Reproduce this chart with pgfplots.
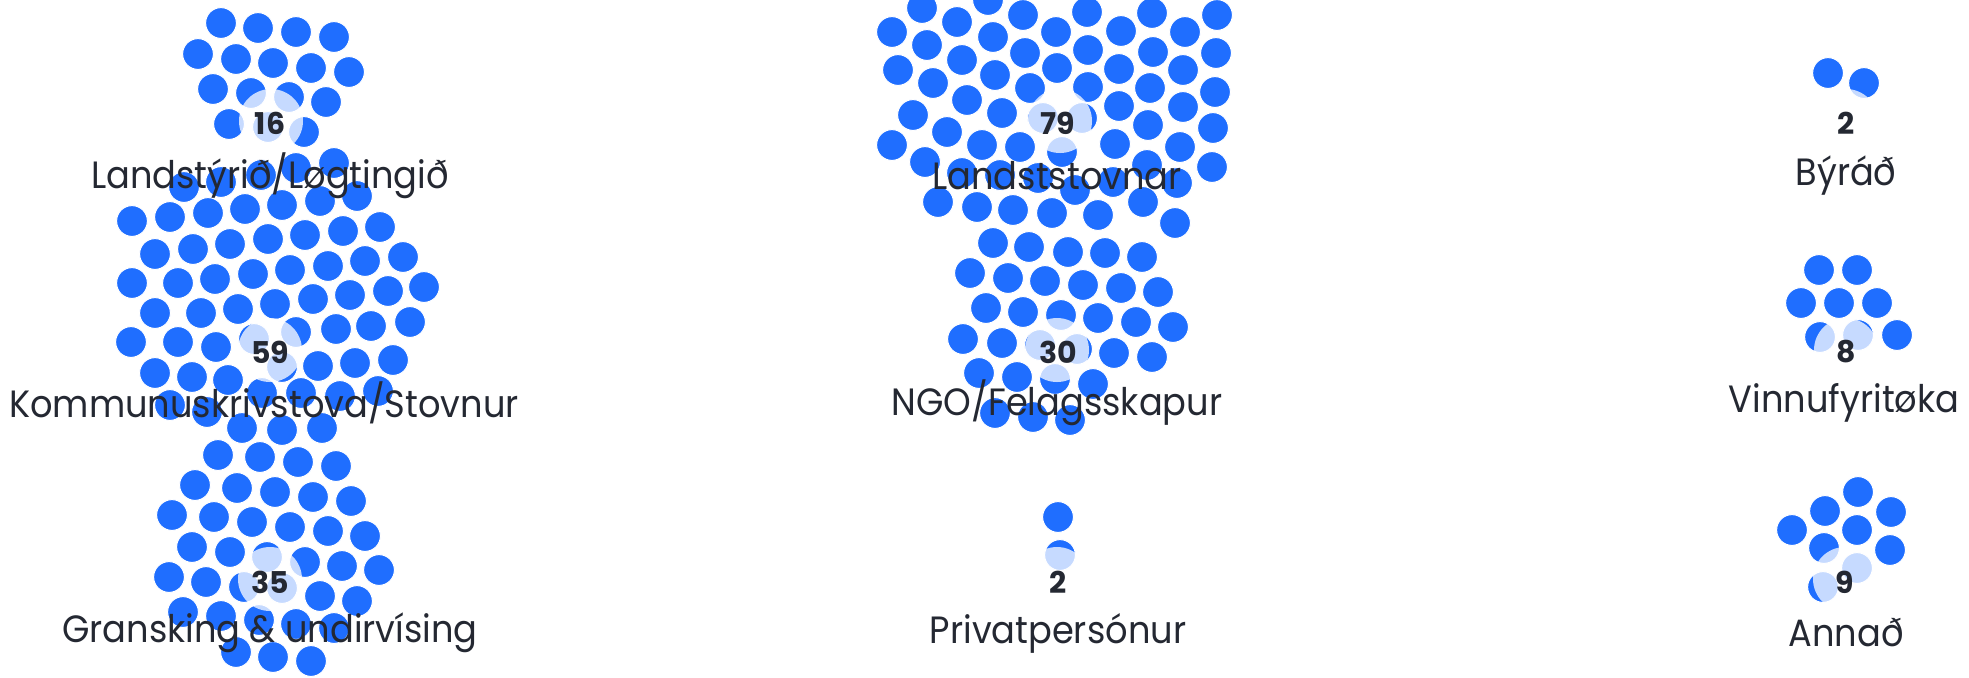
\documentclass[border=0pt]{standalone}
\usepackage{fontspec}
\setmainfont{Poppins}
\usepackage{pgfplots}
\pgfplotsset{compat=1.18}
\definecolor{dot}{RGB}{31,110,255}
\definecolor{txt}{RGB}{36,40,50}
\begin{document}
\begin{tikzpicture}
\begin{axis}[scale only axis, width=984.5pt, height=338.5pt,
  xmin=0, xmax=1969, ymin=0, ymax=677, y dir=reverse, hide axis,
  clip marker paths=true, clip bounding box=upper bound,
  dots/.style={only marks, mark=*, mark size=7.7pt, mark options={fill=dot, draw=white, line width=0.5pt}}]
% Landstyrid/Logtingid (16)
\addplot[dots] coordinates {(221,23)(258,28)(296,32)(334,37)
(198,54)(236,59)(273,63)(311,68)(349,72)
(213,89)(251,93)(289,97)(326,102)
(229,124)(268,127)(304,132)};
% Kommunuskrivstova/Stovnur (59)
\addplot[dots] coordinates {(184,187)(221,182)(261,175)(296,168)(334,163)
(132,221)(170,217)(208,213)(245,209)(282,205)(320,201)(357,196)
(155,254)(193,249)(230,244)(268,239)(305,235)(343,231)(380,227)
(132,283)(178,283)(215,279)(253,274)(290,270)(328,266)(365,261)(403,257)
(155,313)(201,313)(238,309)(275,304)(313,299)(350,295)(388,291)(424,287)
(131,342)(178,342)(216,347)(254,339)(296,332)(336,329)(371,326)(410,322)
(155,373)(192,377)(228,380)(282,367)(318,366)(355,363)(393,360)
(170,405)(207,412)(262,393)(301,393)(340,396)(378,391)
(242,428)(282,430)(322,428)};
% Gransking & undirvising (35)
\addplot[dots] coordinates {(218,455)(260,457)(298,462)(336,466)
(195,485)(237,488)(275,492)(313,497)(351,501)
(172,515)(214,517)(252,522)(290,527)(328,531)(365,536)
(192,547)(230,552)(267,557)(305,562)(342,566)(379,570)
(169,577)(206,582)(244,587)(282,588)(320,596)(357,601)
(183,612)(221,616)(259,620)(296,624)(334,628)
(236,652)(273,657)(311,661)};
% Landststovnar (79)
\addplot[dots] coordinates {(892,32)(922,8)(957,22)(988,0)(1023,15)(1053,-6)(1056,32)(1087,12)(1119,-6)(1121,31)(1152,13)(1185,-6)(1185,32)(1217,15)
(927,45)(993,37)(1025,53)(1088,50)(1153,52)(1216,53)
(898,70)(962,60)(1057,68)(1119,69)(1183,70)
(933,83)(995,75)(1030,88)(1088,87)(1150,88)(1215,92)
(913,115)(967,100)(1119,106)(1183,107)(1043,118)(1082,118)
(947,132)(1002,113)(892,145)(982,145)(1020,147)(1062,152)(1115,144)(1148,125)(1213,128)(1180,147)
(925,162)(1147,165)(1212,167)
(962,173)(1000,175)(1038,178)(1075,190)(1113,182)(1177,183)
(938,202)(977,207)(1013,210)(1052,213)(1098,215)(1143,202)(1175,223)};
% NGO/Felagsskapur (30)
\addplot[dots] coordinates {(993,243)(1029,247)(1068,252)(1105,253)(1142,257)
(970,273)(1008,278)(1045,281)(1083,285)(1121,288)(1158,292)
(986,308)(1023,312)(1061,315)(1098,318)(1136,322)(1173,327)
(963,339)(1002,343)(1040,345)(1077,349)(1114,353)(1152,357)
(979,373)(1017,377)(1055,379)(1093,384)
(995,413)(1033,417)(1070,420)};
% Privatpersonur (2)
\addplot[dots] coordinates {(1058,517)(1060,555)};
% Byrad (2)
\addplot[dots] coordinates {(1828,73)(1864,83)};
% Vinnufyritoka (8)
\addplot[dots] coordinates {(1819,270)(1857,270)(1801,303)(1839,303)(1877,303)(1820,337)(1858,335)(1897,335)};
% Annad (9)
\addplot[dots] coordinates {(1858,492)(1825,511)(1891,512)(1792,530)(1857,530)(1824,548)(1890,550)(1857,568)(1823,587)};
% label halos
\addplot[white, only marks, mark=*, mark size=16pt, mark options={fill=white, draw=white, fill opacity=0.75, draw opacity=0, line width=0pt}] coordinates {
(271,121)(270,350)(270,579)(1060,121)(1057,350)(1057,579)(1846,121)(1846,350)(1845,579)};
% numbers
\begin{scope}[every node/.style={text=txt, font=\fontsize{15}{17}\selectfont\bfseries}]
\node at (axis cs:270,123) {16};
\node at (axis cs:270,352) {59};
\node at (axis cs:270,582) {35};
\node at (axis cs:1058,123) {79};
\node at (axis cs:1058,352) {30};
\node at (axis cs:1058,582) {2};
\node at (axis cs:1846,123) {2};
\node at (axis cs:1846,352) {8};
\node at (axis cs:1845,582) {9};
\end{scope}
\begin{scope}[every node/.style={text=txt, font=\fontsize{17.6}{20}\selectfont, yscale=1.08}]
\node at (axis cs:270,176) {Landstýrið/Løgtingið};
\node at (axis cs:264,403) {Kommunuskrivstova/Stovnur};
\node at (axis cs:270,633) {Gransking \& undirvísing};
\node at (axis cs:1057,176) {Landststovnar};
\node at (axis cs:1057,403) {NGO/Felagsskapur};
\node at (axis cs:1058,633) {Privatpersónur};
\node at (axis cs:1846,176) {Býráð};
\node at (axis cs:1844,403) {Vinnufyritøka};
\node at (axis cs:1846,633) {Annað};
\end{scope}
\end{axis}
\pgfresetboundingbox
\useasboundingbox (current axis.south west) rectangle (current axis.north east);
\end{tikzpicture}
\end{document}
